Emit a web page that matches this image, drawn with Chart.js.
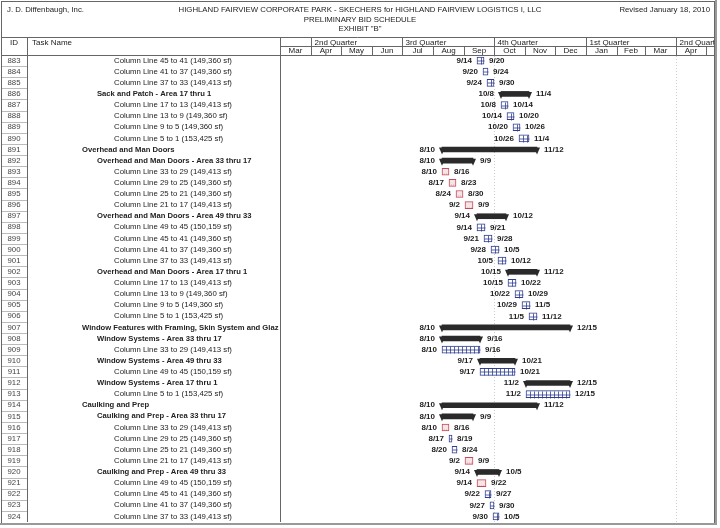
<!DOCTYPE html>
<html>
<head>
<meta charset="utf-8">
<title>Preliminary Bid Schedule</title>
<script src="https://cdn.jsdelivr.net/npm/chart.js@4.4.1/dist/chart.umd.min.js"></script>
<style>
  html, body { margin: 0; padding: 0; background: #fff; }
  #wrap { position: relative; width: 720px; height: 528px; overflow: hidden; font-family: "Liberation Sans", Arial, sans-serif; color: #222; }
  #wrap canvas { position: absolute; left: 0; top: 0; }
  .hd { position: absolute; font-size: 7.8px; line-height: 9.5px; white-space: nowrap; }
</style>
</head>
<body>
<div id="wrap">
  <canvas id="gantt" width="720" height="528"></canvas>
  <div class="hd" style="left:7px;top:5px">J. D. Diffenbaugh, Inc.</div>
  <div class="hd" style="left:0;width:720px;top:5px;text-align:center">HIGHLAND FAIRVIEW CORPORATE PARK - SKECHERS for HIGHLAND FAIRVIEW LOGISTICS I, LLC<br>PRELIMINARY BID SCHEDULE<br>EXHIBIT "B"</div>
  <div class="hd" style="right:10px;top:5px">Revised January 18, 2010</div>
</div>
<script>
/* --------------- Rows --------------------- */
const ids = [883, 884, 885, 886, 887, 888, 889, 890, 891, 892, 893, 894, 895, 896,
  897, 898, 899, 900, 901, 902, 903, 904, 905, 906, 907, 908, 909, 910, 911, 912,
  913, 914, 915, 916, 917, 918, 919, 920, 921, 922, 923, 924];

const taskNames = [
  "Column Line 45 to 41 (149,360 sf)",
  "Column Line 41 to 37 (149,360 sf)",
  "Column Line 37 to 33 (149,413 sf)",
  "Sack and Patch - Area 17 thru 1",
  "Column Line 17 to 13 (149,413 sf)",
  "Column Line 13 to 9 (149,360 sf)",
  "Column Line 9 to 5 (149,360 sf)",
  "Column Line 5 to 1 (153,425 sf)",
  "Overhead and Man Doors",
  "Overhead and Man Doors - Area 33 thru 17",
  "Column Line 33 to 29 (149,413 sf)",
  "Column Line 29 to 25 (149,360 sf)",
  "Column Line 25 to 21 (149,360 sf)",
  "Column Line 21 to 17 (149,413 sf)",
  "Overhead and Man Doors - Area 49 thru 33",
  "Column Line 49 to 45 (150,159 sf)",
  "Column Line 45 to 41 (149,360 sf)",
  "Column Line 41 to 37 (149,360 sf)",
  "Column Line 37 to 33 (149,413 sf)",
  "Overhead and Man Doors - Area 17 thru 1",
  "Column Line 17 to 13 (149,413 sf)",
  "Column Line 13 to 9 (149,360 sf)",
  "Column Line 9 to 5 (149,360 sf)",
  "Column Line 5 to 1 (153,425 sf)",
  "Window Features with Framing, Skin System and Glaz",
  "Window Systems - Area 33 thru 17",
  "Column Line 33 to 29 (149,413 sf)",
  "Window Systems - Area 49 thru 33",
  "Column Line 49 to 45 (150,159 sf)",
  "Window Systems - Area 17 thru 1",
  "Column Line 5 to 1 (153,425 sf)",
  "Caulking and Prep",
  "Caulking and Prep - Area 33 thru 17",
  "Column Line 33 to 29 (149,413 sf)",
  "Column Line 29 to 25 (149,360 sf)",
  "Column Line 25 to 21 (149,360 sf)",
  "Column Line 21 to 17 (149,413 sf)",
  "Caulking and Prep - Area 49 thru 33",
  "Column Line 49 to 45 (150,159 sf)",
  "Column Line 45 to 41 (149,360 sf)",
  "Column Line 41 to 37 (149,360 sf)",
  "Column Line 37 to 33 (149,413 sf)",
];

// outline level: 1 = top summary, 2 = area summary, 3 = task
const levels = [3, 3, 3, 2, 3, 3, 3, 3, 1, 2, 3, 3, 3, 3, 2, 3, 3, 3, 3, 2, 3,
  3, 3, 3, 1, 2, 3, 2, 3, 2, 3, 1, 2, 3, 3, 3, 3, 2, 3, 3, 3, 3];

// sum = summary bar, blue / red = task box
const kinds = ["blue", "blue", "blue", "sum", "blue", "blue", "blue", "blue",
  "sum", "sum", "red", "red", "red", "red", "sum", "blue", "blue", "blue", "blue",
  "sum", "blue", "blue", "blue", "blue", "sum", "sum", "blue", "sum", "blue",
  "sum", "blue", "sum", "sum", "red", "blue", "blue", "red", "sum", "red",
  "blue", "blue", "blue"];

const starts = ["9/14", "9/20", "9/24", "10/8", "10/8", "10/14", "10/20", "10/26",
  "8/10", "8/10", "8/10", "8/17", "8/24", "9/2", "9/14", "9/14", "9/21", "9/28",
  "10/5", "10/15", "10/15", "10/22", "10/29", "11/5", "8/10", "8/10", "8/10",
  "9/17", "9/17", "11/2", "11/2", "8/10", "8/10", "8/10", "8/17", "8/20", "9/2",
  "9/14", "9/14", "9/22", "9/27", "9/30"];

const ends = ["9/20", "9/24", "9/30", "11/4", "10/14", "10/20", "10/26", "11/4",
  "11/12", "9/9", "8/16", "8/23", "8/30", "9/9", "10/12", "9/21", "9/28", "10/5",
  "10/12", "11/12", "10/22", "10/29", "11/5", "11/12", "12/15", "9/16", "9/16",
  "10/21", "10/21", "12/15", "12/15", "11/12", "9/9", "8/16", "8/19", "8/24",
  "9/9", "10/5", "9/22", "9/27", "9/30", "10/5"];

/* --------------- Timescale (days from Mar 1, 2010) --------------------- */
const monthLabels = ["Mar", "Apr", "May", "Jun", "Jul", "Aug", "Sep", "Oct", "Nov",
  "Dec", "Jan", "Feb", "Mar", "Apr", "May"];
const monthStarts = [0, 31, 61, 92, 122, 153, 184, 214, 245, 275, 306, 337, 365, 396, 426];
const quarterLabels = ["", "2nd Quarter", "3rd Quarter", "4th Quarter", "1st Quarter", "2nd Quarter"];
const quarterStarts = [0, 31, 122, 214, 306, 396];
const pageBreaks = [214, 396];

const dayOf = (md) => {
  const [m, d] = md.split("/").map(Number);
  return (Date.UTC(2010, m - 1, d) - Date.UTC(2010, 2, 1)) / 864e5;
};

const summaryData = kinds.map((k, i) => (k === "sum" ? [dayOf(starts[i]), dayOf(ends[i]) + 1] : null));
const taskData = kinds.map((k, i) => (k !== "sum" ? [dayOf(starts[i]), dayOf(ends[i]) + 1] : null));

const FONT = '"Liberation Sans", Arial, sans-serif';
const BLUE = "#2f3d8f";
const RED = "#c24a5a";

/* --------------- Table, header and labels plugin --------------------- */
const ganttPlugin = {
  id: "ganttTable",
  beforeDraw(chart) {
    const { ctx, chartArea: a, scales: { x, y } } = chart;
    const rowH = (a.bottom - a.top) / ids.length;
    ctx.save();
    ctx.fillStyle = "#fff";
    ctx.fillRect(0, 0, chart.width, chart.height);

    // frame
    ctx.strokeStyle = "#666";
    ctx.lineWidth = 1;
    ctx.strokeRect(1.5, 1.5, a.right - 1, a.bottom);
    ctx.beginPath();
    ctx.moveTo(1, 37.5); ctx.lineTo(a.right, 37.5);
    ctx.moveTo(1, a.top + 0.5); ctx.lineTo(a.right, a.top + 0.5);
    ctx.moveTo(27.5, 37); ctx.lineTo(27.5, a.bottom);
    ctx.moveTo(a.left + 0.5, 37); ctx.lineTo(a.left + 0.5, a.bottom);
    ctx.moveTo(a.left, 46.5); ctx.lineTo(a.right, 46.5);
    ctx.stroke();
    ctx.strokeStyle = "#999";
    ctx.lineWidth = 2;
    ctx.beginPath();
    ctx.moveTo(0, a.bottom + 2); ctx.lineTo(a.right + 3, a.bottom + 2);
    ctx.moveTo(a.right + 2, 0); ctx.lineTo(a.right + 2, a.bottom + 2);
    ctx.stroke();

    // ID cell lines
    ctx.strokeStyle = "#bbb";
    ctx.lineWidth = 1;
    ctx.beginPath();
    for (let i = 1; i < ids.length; i++) {
      const yy = Math.round(a.top + i * rowH) + 0.5;
      ctx.moveTo(2, yy); ctx.lineTo(27, yy);
    }
    ctx.stroke();

    // column headings
    ctx.fillStyle = "#222";
    ctx.font = "8px " + FONT;
    ctx.textBaseline = "middle";
    ctx.textAlign = "center";
    ctx.fillText("ID", 14, 43);
    ctx.textAlign = "left";
    ctx.fillText("Task Name", 32, 43);

    // timescale: quarters and months
    ctx.save();
    ctx.beginPath();
    ctx.rect(a.left, 37, a.right - a.left, a.top - 37);
    ctx.clip();
    ctx.strokeStyle = "#666";
    ctx.beginPath();
    quarterStarts.forEach((d, i) => {
      const px = Math.round(x.getPixelForValue(d)) + 0.5;
      if (i > 0) { ctx.moveTo(px, 37); ctx.lineTo(px, a.top); }
      ctx.fillText(quarterLabels[i], px + 3, 42.5);
    });
    ctx.textAlign = "center";
    monthStarts.forEach((d, i) => {
      const px = Math.round(x.getPixelForValue(d)) + 0.5;
      if (i > 0) { ctx.moveTo(px, 46.5); ctx.lineTo(px, a.top); }
      const next = monthStarts[i + 1] !== undefined ? monthStarts[i + 1] : d + 31;
      const mid = (x.getPixelForValue(d) + x.getPixelForValue(next)) / 2;
      ctx.fillText(monthLabels[i], mid, 51);
    });
    ctx.stroke();
    ctx.restore();

    // page break dotted lines
    ctx.strokeStyle = "#ccc";
    ctx.setLineDash([1, 2]);
    ctx.beginPath();
    pageBreaks.forEach((d) => {
      const px = Math.round(x.getPixelForValue(d)) + 0.5;
      ctx.moveTo(px, a.top + 1); ctx.lineTo(px, a.bottom);
    });
    ctx.stroke();
    ctx.setLineDash([]);

    // ID column
    ids.forEach((id, i) => {
      ctx.font = "7.8px " + FONT;
      ctx.fillStyle = "#444";
      ctx.textAlign = "center";
      ctx.fillText(String(id), 14, y.getPixelForValue(i));
    });

    // task name column, clipped to its cell
    const indent = { 1: 82, 2: 97, 3: 114 };
    ctx.save();
    ctx.beginPath();
    ctx.rect(28, a.top + 1, a.left - 28, a.bottom - a.top - 1);
    ctx.clip();
    ctx.textAlign = "left";
    ctx.fillStyle = "#222";
    taskNames.forEach((name, i) => {
      ctx.font = levels[i] < 3 ? "bold 7.65px " + FONT : "7.8px " + FONT;
      ctx.fillText(name, indent[levels[i]], y.getPixelForValue(i));
    });
    ctx.restore();
    ctx.restore();
  },
  afterDatasetsDraw(chart) {
    const { ctx } = chart;
    ctx.save();
    // summary bar end caps
    chart.getDatasetMeta(0).data.forEach((bar, i) => {
      if (!summaryData[i]) return;
      const l = bar.base, r = bar.x, cy = bar.y;
      ctx.fillStyle = "#2a2a2a";
      [l, r].forEach((ex) => {
        ctx.beginPath();
        ctx.moveTo(ex - 3, cy - 2);
        ctx.lineTo(ex + 3, cy - 2);
        ctx.lineTo(ex, cy + 5);
        ctx.closePath();
        ctx.fill();
      });
    });
    // task box inner pattern
    chart.getDatasetMeta(1).data.forEach((bar, i) => {
      if (!taskData[i]) return;
      const l = Math.round(bar.base) + 0.5, r = Math.round(bar.x) + 0.5;
      const t = Math.round(bar.y - 3.5) + 0.5, b = t + 7;
      ctx.lineWidth = 0.8;
      ctx.beginPath();
      if (kinds[i] === "blue") {
        ctx.strokeStyle = BLUE;
        ctx.moveTo(l, (t + b) / 2); ctx.lineTo(r, (t + b) / 2);
        for (let px = l + 4; px < r - 1; px += 4) { ctx.moveTo(px, t); ctx.lineTo(px, b); }
      } else {
        ctx.strokeStyle = "rgba(194,74,90,0.45)";
        ctx.setLineDash([1, 1]);
        ctx.moveTo(l + 1.5, b - 1.5); ctx.lineTo(r - 1.5, b - 1.5);
      }
      ctx.stroke();
      ctx.setLineDash([]);
    });
    // date labels
    ctx.font = "bold 8px " + FONT;
    ctx.fillStyle = "#222";
    ctx.textBaseline = "middle";
    [0, 1].forEach((di) => {
      chart.getDatasetMeta(di).data.forEach((bar, i) => {
        const row = di === 0 ? summaryData[i] : taskData[i];
        if (!row) return;
        const gap = di === 0 ? 7 : 5;
        ctx.textAlign = "right";
        ctx.fillText(starts[i], bar.base - gap, bar.y);
        ctx.textAlign = "left";
        ctx.fillText(ends[i], bar.x + gap, bar.y);
      });
    });
    ctx.restore();
  },
};

/* --------------- Chart --------------------- */
const gantt = new Chart(document.getElementById("gantt"), {
  type: "bar",
  plugins: [ganttPlugin],
  data: {
    labels: ids,
    datasets: [
      {
        label: "Summary",
        data: summaryData,
        backgroundColor: "#2a2a2a",
        borderWidth: 0,
        barThickness: 5,
      },
      {
        label: "Task",
        data: taskData,
        backgroundColor: kinds.map((k) => (k === "red" ? "#f7e4e6" : "#ffffff")),
        borderColor: kinds.map((k) => (k === "red" ? RED : BLUE)),
        borderWidth: 1,
        borderSkipped: false,
        barThickness: 7,
      },
    ],
  },
  options: {
    indexAxis: "y",
    responsive: false,
    animation: false,
    grouped: false,
    layout: { padding: { left: 280, right: 6, top: 55, bottom: 6 } },
    scales: {
      x: { type: "linear", min: 0, max: 434, display: false },
      y: { type: "category", display: false },
    },
    plugins: {
      legend: { display: false },
      tooltip: { enabled: false },
    },
  },
});
</script>
</body>
</html>
